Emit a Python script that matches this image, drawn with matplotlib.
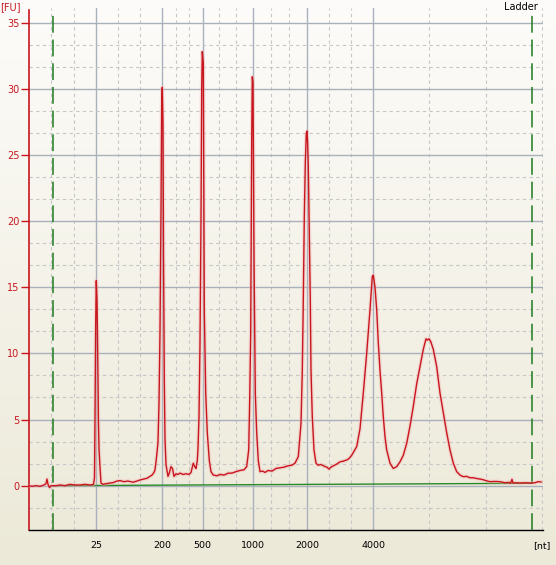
import numpy as np
import matplotlib
matplotlib.use("Agg")
from matplotlib import pyplot as plt
from matplotlib.ticker import MultipleLocator

# electropherogram of the RNA ladder, x = migration position, y = fluorescence [FU]
trace_pos = [0, 3, 7, 11, 15, 17, 18, 19, 20.5, 22, 27, 31, 36, 41, 46, 51, 56, 61,
             64.5, 65.5, 66.0, 66.7, 67.3, 68.0, 68.6, 69.4, 70.0, 71, 72, 74, 77, 81,
             84, 88, 91, 95, 99, 104, 108, 111, 115, 118, 121, 123, 125, 126, 127, 128,
             129, 130, 131, 132, 132.7, 133.3, 134.0, 134.5, 135.3, 136, 137, 139, 140.5,
             142, 143.5, 145, 147, 149, 151, 154, 157, 160, 162, 164.3, 166, 167, 168.3,
             169, 170, 171, 172, 172.7, 173.3, 174.3, 174.8, 175.3, 176.7, 178.3, 180.3,
             182, 184.3, 188, 191, 195, 199, 203, 207, 211, 215, 217.7, 219.7, 220.7,
             221.7, 222.7, 223.3, 224.0, 224.5, 225, 226.3, 227.7, 229.3, 231, 233.7, 236,
             239, 243, 247, 251, 255, 259, 263, 266, 269.3, 272, 273.3, 274.3, 275.3,
             276.3, 277.3, 278, 278.6, 279.3, 280.3, 281.3, 282, 283.3, 285, 287, 289,
             292, 296, 298, 300, 302, 304.3, 307, 311, 314, 317.7, 320, 322.7, 325, 327.7,
             331, 334.3, 337.7, 341, 343.3, 344.3, 346, 347.7, 349.3, 351, 352.7, 354.3,
             356, 357.7, 361, 364.3, 367.7, 371, 374.3, 377.7, 381, 384.3, 387.7, 391,
             394.3, 397, 398.3, 400, 401.7, 404.3, 407.7, 411, 414.3, 417.7, 421, 424.3,
             427.7, 431, 434.3, 437.7, 441, 444, 447, 451, 454, 457, 461, 466, 471, 476,
             480, 481.5, 483, 484, 487, 491, 496, 501, 506, 509, 512]
trace_fu = [0.0, -0.05, 0.0, -0.05, 0.05, 0.15, 0.5, 0.1, -0.15, 0.0, 0.0, 0.05, 0.0,
            0.1, 0.05, 0.05, 0.1, 0.05, 0.1, 0.6, 5.0, 12.3, 15.5, 14.0, 10.8, 5.0, 2.8,
            1.4, 0.2, 0.1, 0.15, 0.2, 0.23, 0.35, 0.38, 0.3, 0.35, 0.26, 0.35, 0.43, 0.5,
            0.56, 0.7, 0.8, 1.0, 1.2, 1.8, 2.5, 3.3, 6.2, 11.6, 20.8, 29.0, 30.1, 27.3,
            17.6, 8.0, 3.5, 1.6, 0.7, 1.0, 1.44, 1.3, 0.7, 0.9, 0.85, 0.95, 0.85, 0.9,
            0.85, 1.0, 1.7, 1.4, 1.3, 1.9, 2.8, 5.2, 10.8, 20.1, 30.0, 32.8, 31.9, 22.0,
            13.3, 7.0, 4.0, 1.9, 1.06, 0.8, 0.75, 0.85, 0.8, 0.94, 0.95, 1.06, 1.15, 1.2,
            1.44, 2.7, 6.5, 11.5, 26.1, 30.9, 30.5, 24.0, 17.4, 7.0, 4.0, 1.9, 1.06, 1.1,
            1.0, 1.15, 1.1, 1.3, 1.35, 1.4, 1.5, 1.55, 1.7, 2.2, 4.7, 8.7, 14.0, 20.3,
            24.4, 26.6, 26.8, 26.0, 24.1, 19.3, 14.0, 8.7, 5.2, 2.7, 1.7, 1.55, 1.6, 1.44,
            1.4, 1.25, 1.4, 1.5, 1.6, 1.8, 1.85, 1.94, 2.05, 2.3, 2.6, 2.95, 4.3, 7.0,
            10.0, 13.3, 15.8, 15.9, 15.0, 13.3, 10.8, 8.7, 7.0, 5.2, 3.7, 2.7, 1.7, 1.3,
            1.44, 1.8, 2.3, 3.2, 4.5, 6.0, 7.7, 9.0, 10.3, 11.1, 11.0, 11.1, 10.9, 10.3,
            9.0, 7.0, 5.5, 4.0, 2.7, 1.7, 1.06, 0.8, 0.68, 0.7, 0.6, 0.6, 0.55, 0.5, 0.45,
            0.38, 0.3, 0.32, 0.3, 0.22, 0.25, 0.18, 0.48, 0.2, 0.22, 0.2, 0.22, 0.2, 0.22,
            0.3, 0.28]

# baseline and lower / upper marker positions
baseline_pos = [24.3, 503.3]
baseline_fu = [0.0, 0.18]
marker_pos = [24.3, 503.3]

# size ladder tick positions and labels
ladder_pos = [67.3, 133.3, 173.7, 223.7, 278.3, 344.3]
ladder_labels = ["25", "200", "500", "1000", "2000", "4000"]

RED = "#c8161e"
W, H = 556, 565

fig = plt.figure(figsize=(W / 100, H / 100), dpi=100)

# background gradient (white-ish top to windows beige bottom)
bg = fig.add_axes([0, 0, 1, 1], zorder=-10)
top = np.array([0.992, 0.988, 0.980])
bot = np.array([0.925, 0.914, 0.847])
t = np.linspace(0, 1, 256)[:, None, None]
grad = top * (1 - t) + bot * t
bg.imshow(grad, aspect="auto", extent=[0, 1, 0, 1])
bg.axis("off")

x0, x1 = 0, 513.5
ax = fig.add_axes([29 / W, 35 / H, (x1 - x0) / W, 522 / H])
ax.patch.set_alpha(0)
ax.set_xlim(x0, x1)
ax.set_ylim(-3.35, 36.1)

# grid
edges = [0] + ladder_pos
minor_x = []
for a, b in zip(edges[:-1], edges[1:]):
    minor_x += [a + (b - a) / 3, a + 2 * (b - a) / 3]
minor_x += [400.3, 456.7, 512.7]
ax.set_xticks(ladder_pos, ladder_labels)
ax.set_xticks(minor_x, minor=True)
ax.yaxis.set_major_locator(MultipleLocator(5))
ax.yaxis.set_minor_locator(MultipleLocator(5 / 3))
ax.grid(which="major", color="#aab1bc", lw=1.0, ls="-")
ax.grid(which="minor", color="#c6c6c6", lw=0.8, ls=(0, (3, 3)))
ax.set_axisbelow(True)

ax.tick_params(axis="x", which="both", length=0, pad=8, labelsize=6.8, colors="black")
ax.tick_params(axis="y", which="major", length=5.8, width=1, pad=1, colors=RED,
               labelsize=7)
ax.tick_params(axis="y", which="minor", length=0)

for s in ["top", "right"]:
    ax.spines[s].set_visible(False)
ax.spines["left"].set_color(RED)
ax.spines["left"].set_linewidth(1.2)
ax.spines["left"].set_bounds(-3.35, 35.95)
ax.spines["bottom"].set_color("black")
ax.spines["bottom"].set_linewidth(1.0)

# marker lines and baseline
for m in marker_pos:
    ax.plot([m, m], [-3.35, 35.9], color="#1f7a1f", lw=1.1, ls=(0, (11, 4.5)),
            zorder=3, solid_capstyle="butt", dash_capstyle="butt")
ax.plot(baseline_pos, baseline_fu, color="#2a8a2a", lw=1.0, zorder=3)

# trace with a soft glow
ax.plot(trace_pos, trace_fu, color="#f4b0b0", lw=2.8, alpha=0.4, zorder=4,
        solid_joinstyle="round")
ax.plot(trace_pos, trace_fu, color=RED, lw=1.0, zorder=5)

fig.text(0.0, 1 - 2 / H, "[FU]", ha="left", va="top", color=RED, fontsize=7)
fig.text(541.7 / W, 1 - 546 / H, "[nt]", ha="center", va="center", fontsize=6.8)
fig.text(520.7 / W, 1 - 7 / H, "Ladder", ha="center", va="center", fontsize=7)

fig.savefig("out.png", dpi=100)
